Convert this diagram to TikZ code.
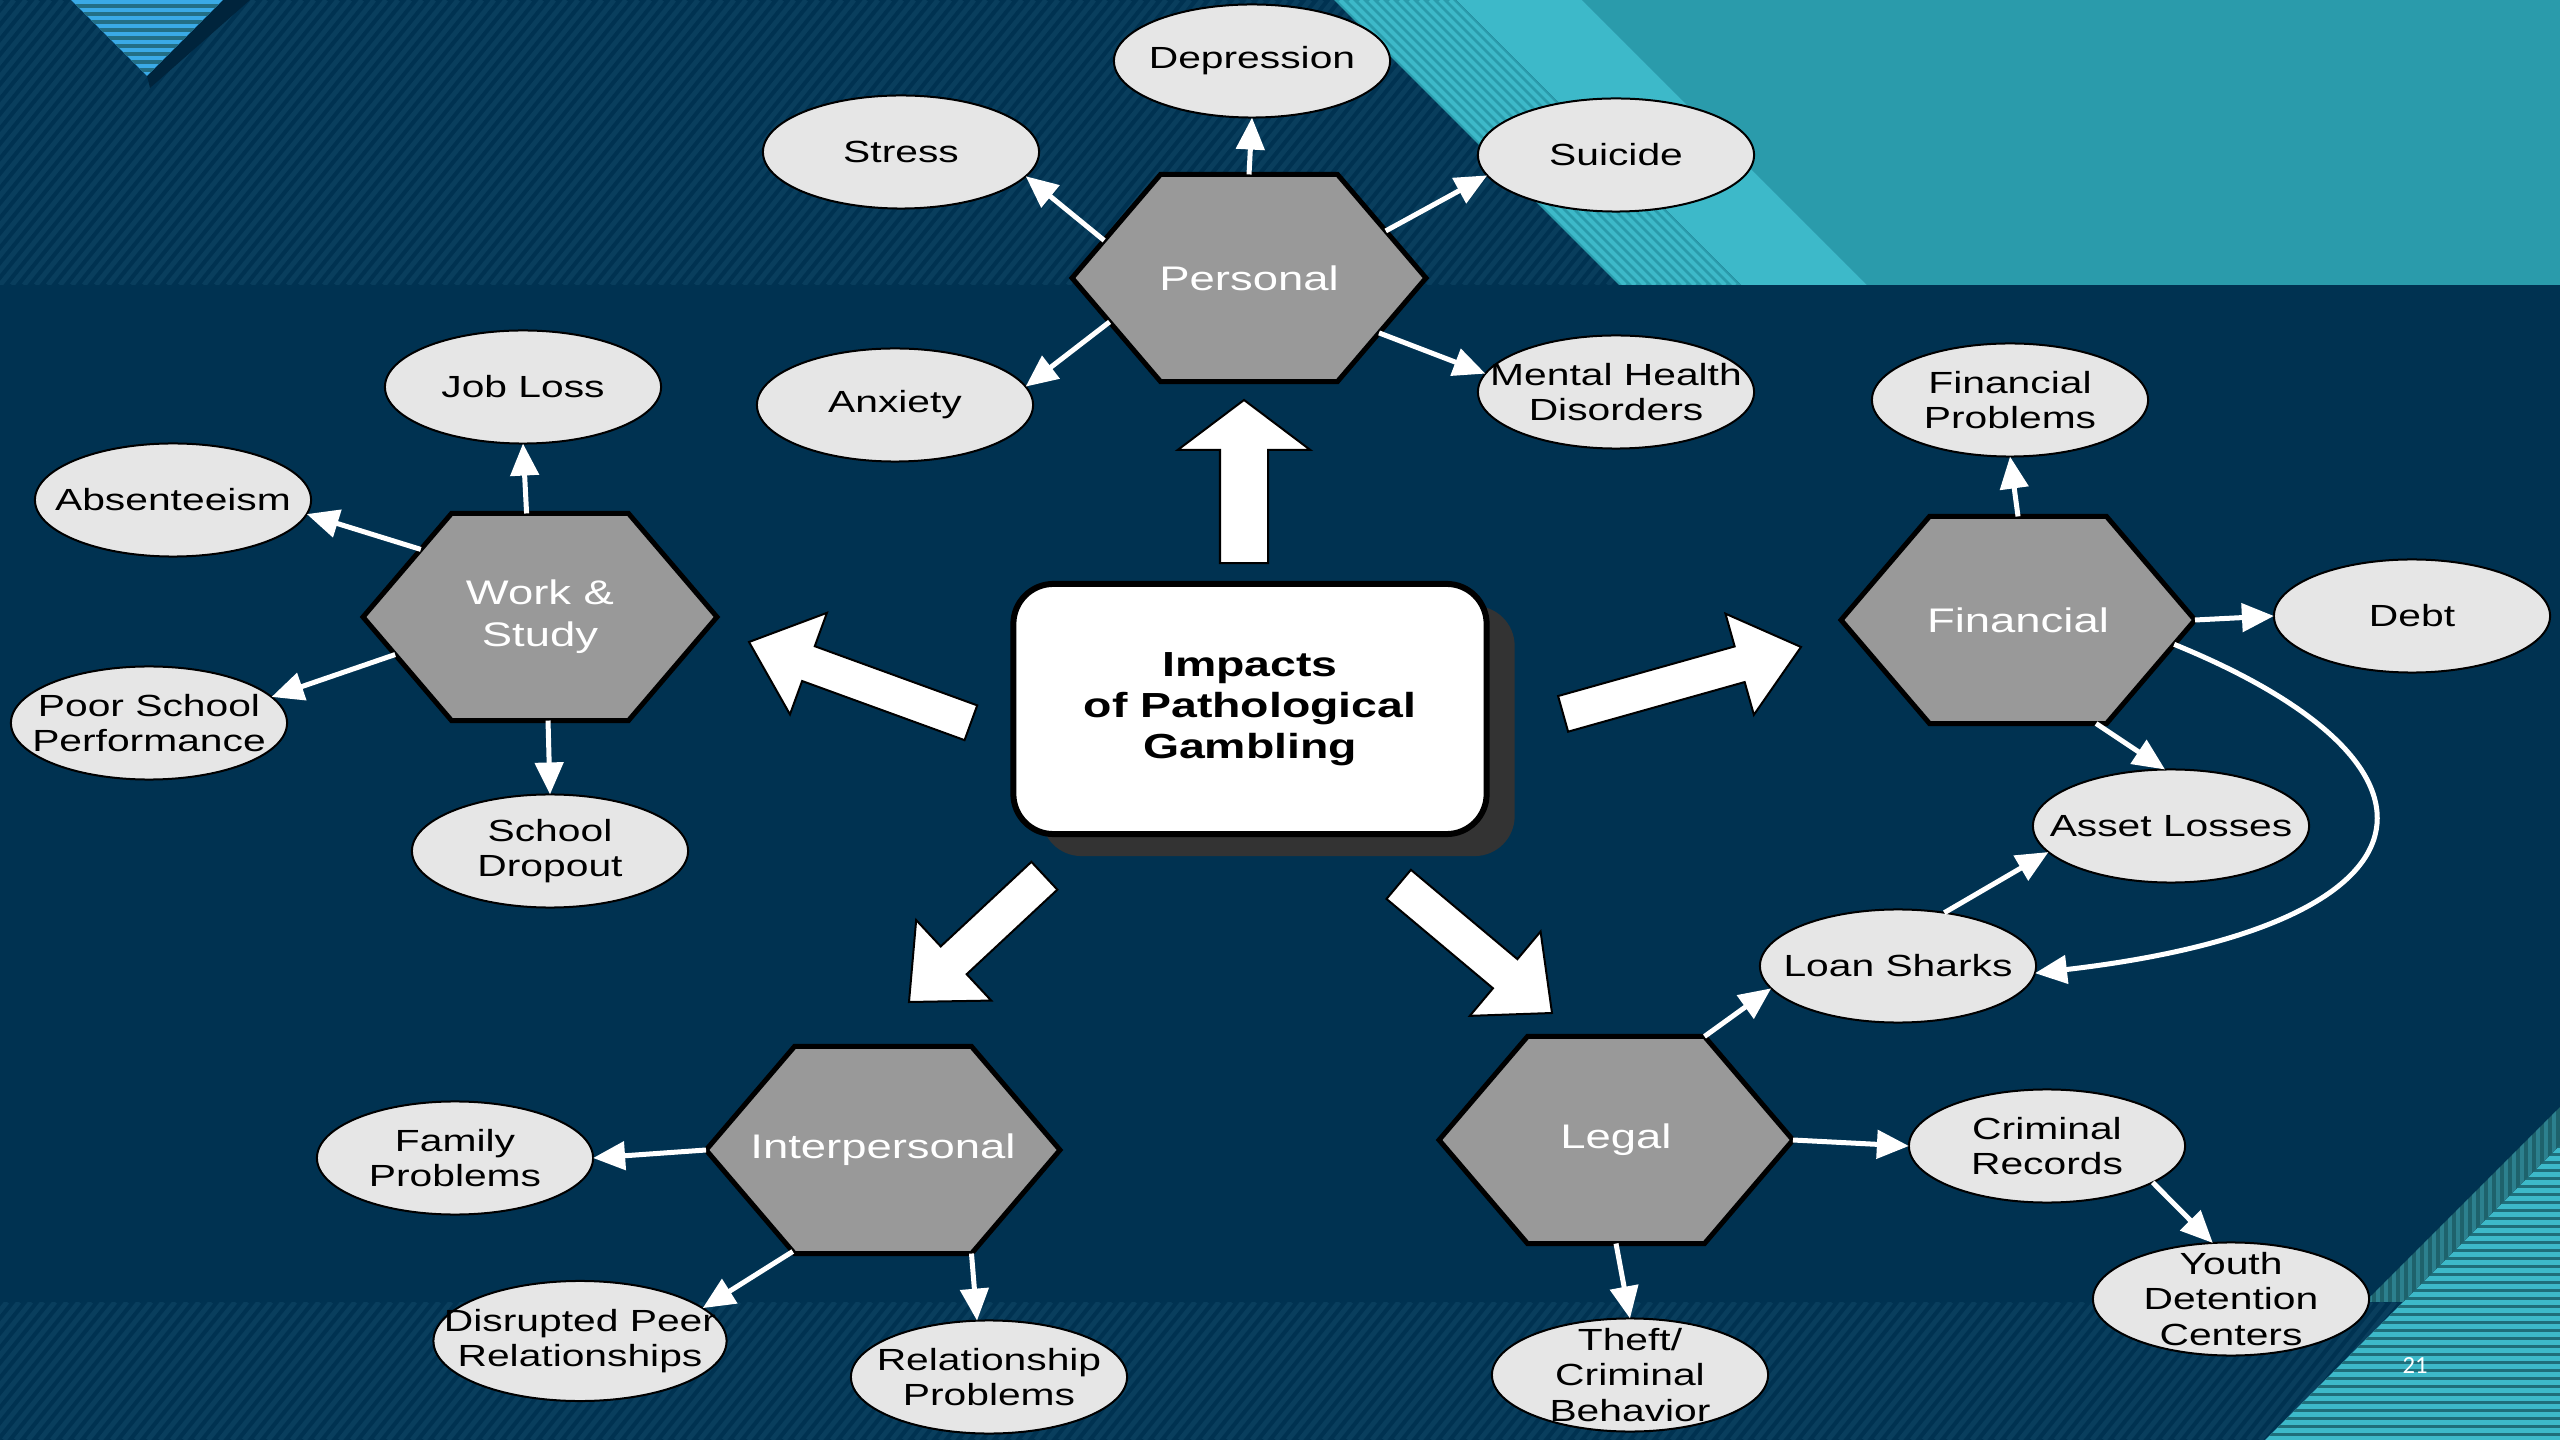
\documentclass[tikz,border=0pt]{standalone}
\usepackage{fontspec}
\setmainfont{Liberation Sans}[FakeStretch=1.333]
\newfontfamily\hexfont{Liberation Sans}[FakeStretch=0.9]
\newfontfamily\pagefont{Carlito}
\usepackage{tikz}
\usetikzlibrary{shapes.geometric}
\usetikzlibrary{shapes.arrows}
\usetikzlibrary{shadows}
\usetikzlibrary{arrows.meta}

\definecolor{navy}{RGB}{0,50,81}
\definecolor{navyline}{RGB}{9,62,93}
\definecolor{navydeep}{RGB}{0,36,60}
\definecolor{tealmid}{RGB}{42,155,171}
\definecolor{teallight}{RGB}{61,185,201}
\definecolor{tealdark}{RGB}{31,110,122}
\definecolor{bandlo}{RGB}{30,98,108}
\definecolor{bandhi}{RGB}{44,128,142}
\definecolor{skyblue}{RGB}{58,170,230}
\definecolor{skydark}{RGB}{35,111,134}
\definecolor{hexgray}{RGB}{153,153,153}
\definecolor{leafgray}{RGB}{230,230,230}
\definecolor{shadowgray}{RGB}{51,51,51}

\tikzset{
  hex/.style={shape=regular polygon, regular polygon sides=6, minimum size=2.39cm, xscale=1.48,
    inner sep=-0.5cm, outer sep=0pt, fill=hexgray, draw=black, line width=0.05cm,
    text=white, font=\hexfont\fontsize{9.7}{12}\selectfont, align=center},
  leaf/.style={ellipse, minimum width=2.76cm, minimum height=1.13cm, inner sep=-1cm, outer sep=0pt,
    fill=leafgray, draw=black, line width=0.02cm, font=\fontsize{8.7}{10}\selectfont, align=center},
  impactbox/.style={rectangle, rounded corners=0.4cm, minimum width=4.73cm, minimum height=2.5cm,
    fill=white, draw=black, line width=0.06cm, align=center,
    font=\bfseries\fontsize{9.9}{11.7}\selectfont,
    drop shadow={shadow xshift=0.28cm, shadow yshift=-0.22cm, fill=shadowgray, opacity=1}},
  conn/.style={draw=white, line width=0.05cm, -{Triangle[length=0.32cm,width=0.28cm]}},
  bigarrow/.style={single arrow, anchor=tip, fill=white, draw=black, line width=0.02cm,
    inner xsep=0pt, outer sep=0pt},
  hatch/.style={navyline, line width=0.05cm},
}

\begin{document}
\begin{tikzpicture}[x=0.01cm, y=-0.01cm]
\useasboundingbox (0,0) rectangle (2560,1440);
\fill [navy] (0,0) rectangle (2560,1440);

% hatched bands
\begin{scope}
\clip (0,0) rectangle (2560,285);
\foreach \x in {-300,-288,...,2560} {\draw [hatch] (\x,285) -- ++(230,-285);}
\end{scope}
\begin{scope}
\clip (0,1302) rectangle (2560,1440);
\foreach \x in {-200,-188,...,2560} {\draw [hatch] (\x,1440) -- ++(111,-138);}
\end{scope}

% top right
\fill [tealmid] (1582,0) -- (2560,0) -- (2560,285) -- (1867,285) -- cycle;
\fill [teallight] (1456,0) -- (1582,0) -- (1867,285) -- (1741,285) -- cycle;
\begin{scope}
\clip (1334,0) -- (1456,0) -- (1741,285) -- (1619,285) -- cycle;
\fill [tealmid] (1300,0) rectangle (1800,285);
\foreach \x in {1330,1340,...,1460} {\draw [teallight, line width=0.04cm] (\x,0) -- ++(285,285);}
\end{scope}

% top left
\fill [navydeep] (223,0) -- (250,0) -- (150,88) -- (147,76) -- cycle;
\begin{scope}
\clip (71,0) -- (223,0) -- (147,76) -- cycle;
\fill [skyblue] (60,0) rectangle (240,80);
\foreach \y in {4,12,...,76} {\fill [skydark] (60,\y) rectangle (240,\y+4);}
\end{scope}

% bottom right
\begin{scope}
\clip (2265,1440) -- (2560,1145) -- (2560,1440) -- cycle;
\fill [teallight] (2200,1100) rectangle (2560,1440);
\foreach \y in {1145,1153,...,1440} {\fill [tealdark] (2200,\y) rectangle (2560,\y+3);}
\end{scope}
\begin{scope}
\clip (2365,1302) -- (2560,1107) -- (2560,1145) -- (2403,1302) -- cycle;
\fill [bandlo] (2300,1100) rectangle (2560,1302);
\foreach \x in {2360,2368,...,2560} {\fill [bandhi] (\x,1100) rectangle (\x+4,1302);}
\end{scope}

\node [text=white, font=\pagefont\fontsize{7}{8}\selectfont] (pagenum) at (2415,1366) {21};

% centre
\node [impactbox] (impacts) at (1250,709) {Impacts\\of Pathological\\Gambling};

\node [bigarrow, rotate=90, minimum height=1.63cm, minimum width=1.30cm, inner ysep=0.23cm,
  single arrow head extend=0.42cm, single arrow tip angle=106] (arrUp) at (1244,400) {};
\node [bigarrow, rotate=160, minimum height=2.36cm, minimum width=1.06cm, inner ysep=0.175cm,
  single arrow head extend=0.355cm, single arrow tip angle=81] (arrWork) at (749,642) {};
\node [bigarrow, rotate=15.7, minimum height=2.47cm, minimum width=1.03cm, inner ysep=0.175cm,
  single arrow head extend=0.34cm, single arrow tip angle=79] (arrFin) at (1801,647) {};
\node [bigarrow, rotate=223, minimum height=1.85cm, minimum width=1.08cm, inner ysep=0.18cm,
  single arrow head extend=0.36cm, single arrow tip angle=84] (arrInter) at (909,1002) {};
\node [bigarrow, rotate=-40, minimum height=2.0cm, minimum width=1.08cm, inner ysep=0.18cm,
  single arrow head extend=0.36cm, single arrow tip angle=84] (arrLegal) at (1552,1013) {};

% categories
\node [hex] (pers) at (1249,278) {Personal};
\node [hex] (work) at (540,617) {Work \&\\Study};
\node [hex] (fin) at (2018,620) {Financial};
\node [hex] (inter) at (883,1150) {Interpersonal};
\node [hex] (legal) at (1616,1140) {Legal};

% effects
\node [leaf] (depr) at (1252,61) {Depression};
\node [leaf] (stress) at (901,152) {Stress};
\node [leaf] (suicide) at (1616,155) {Suicide};
\node [leaf] (anx) at (895,405) {Anxiety};
\node [leaf] (mental) at (1616,392) {Mental Health\\Disorders};
\node [leaf] (jobloss) at (523,387) {Job Loss};
\node [leaf] (absent) at (173,500) {Absenteeism};
\node [leaf] (poorsch) at (149,723) {Poor School\\Performance};
\node [leaf] (dropout) at (550,851) {School\\Dropout};
\node [leaf] (finprob) at (2010,400) {Financial\\Problems};
\node [leaf] (debt) at (2412,616) {Debt};
\node [leaf] (asset) at (2171,826) {Asset Losses};
\node [leaf] (loan) at (1898,966) {Loan Sharks};
\node [leaf] (crimrec) at (2047,1146) {Criminal\\Records};
\node [leaf] (youth) at (2231,1299) {Youth\\Detention\\Centers};
\node [leaf] (theft) at (1630,1375) {Theft/\\Criminal\\Behavior};
\node [leaf] (family) at (455,1158) {Family\\Problems};
\node [leaf, minimum width=2.93cm, minimum height=1.2cm] (peer) at (580,1341) {Disrupted Peer\\Relationships};
\node [leaf] (relprob) at (989,1377) {Relationship\\Problems};

\draw [conn] (pers.north) -- (depr.south);
\draw [conn] (pers.159) -- (stress.-11);
\draw [conn] (pers.27) -- (suicide.189);
\draw [conn] (pers.205) -- (anx.8);
\draw [conn] (pers.-32) -- (mental.172);

\draw [conn] (work.95) -- (jobloss.south);
\draw [conn] (work.140) -- (absent.-6);
\draw [conn] (work.201) -- (poorsch.12);
\draw [conn] (work.-87) -- (dropout.north);

\draw [conn] (fin.north) -- (finprob.south);
\draw [conn] (fin.east) -- (debt.west);
\draw [conn] (fin.-63) -- (asset.96);
\draw [conn] (fin.-13) .. controls (2470,765) and (2450,925) .. (loan.-3);
\draw [conn] (loan.49) -- (asset.192);

\draw [conn] (legal.60) -- (loan.190);
\draw [conn] (legal.east) -- (crimrec.west);
\draw [conn] (legal.south) -- (theft.north);
\draw [conn] (crimrec.-19) -- (youth.108);

\draw [conn] (inter.west) -- (family.east);
\draw [conn] (inter.239) -- (peer.15);
\draw [conn] (inter.-60) -- (relprob.102);

\end{tikzpicture}
\end{document}
